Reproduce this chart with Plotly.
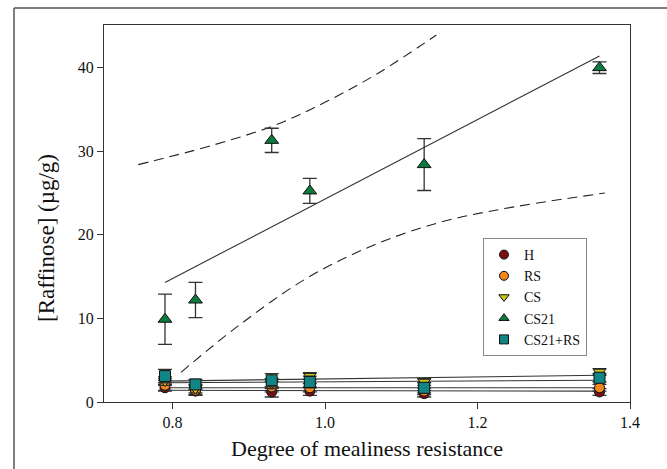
import plotly.graph_objects as go

# ---- data ----
x_vals = [0.79, 0.83, 0.93, 0.98, 1.13, 1.36]

h_y = [1.7, 1.3, 1.2, 1.3, 1.0, 1.2]
h_err = [0.4, 0.4, 0.6, 0.5, 0.4, 0.4]
rs_y = [2.0, 1.4, 1.8, 1.7, 1.3, 1.7]
rs_err = [0.6, 0.6, 0.6, 0.5, 0.4, 0.4]
cs_y = [2.5, 1.6, 2.2, 3.1, 2.4, 3.6]
cs_err = [0.5, 0.5, 0.6, 0.4, 0.4, 0.4]
cs21_y = [9.9, 12.2, 31.3, 25.25, 28.4, 40.0]
cs21_err = [3.0, 2.1, 1.45, 1.5, 3.1, 0.7]
cs21rs_y = [3.1, 2.1, 2.6, 2.4, 1.7, 2.9]
cs21rs_err = [0.8, 0.6, 0.8, 0.7, 0.6, 0.5]

# regression lines (endpoints)
fit_x = [0.79, 1.36]
fit_cs21 = [14.3, 41.4]
fit_cs = [2.5, 3.2]
fit_cs21rs = [2.3, 2.6]
fit_rs = [1.7, 1.7]
fit_h = [1.4, 1.3]

# confidence band curves
upper_x = [0.755, 0.79, 0.848, 0.934, 1.003, 1.069, 1.146]
upper_y = [28.4, 29.2, 30.6, 33.1, 36.0, 39.3, 43.9]
lower_x = [0.811, 0.886, 0.974, 1.062, 1.151, 1.239, 1.367]
lower_y = [3.55, 9.1, 14.7, 18.7, 21.5, 23.2, 25.0]

series_names = ["H", "RS", "CS", "CS21", "CS21+RS"]
series_y = [h_y, rs_y, cs_y, cs21_y, cs21rs_y]
series_err = [h_err, rs_err, cs_err, cs21_err, cs21rs_err]
colors = ["#7a0f12", "#f0861e", "#c9c31c", "#0b7a3c", "#118585"]
symbols = ["circle", "circle", "triangle-down", "triangle-up", "square"]
sizes = [10, 10, 11, 12, 11]

FONT = "Liberation Serif, Times New Roman, serif"
fig = go.Figure()

# dashed bands
for bx, by in [(upper_x, upper_y), (lower_x, lower_y)]:
    fig.add_trace(go.Scatter(x=bx, y=by, mode="lines", line_shape="spline",
                             line=dict(color="#222", width=1.1, dash="10px,6px"),
                             showlegend=False, hoverinfo="skip"))

# fit lines
for fy in [fit_h, fit_rs, fit_cs, fit_cs21rs, fit_cs21]:
    fig.add_trace(go.Scatter(x=fit_x, y=fy, mode="lines",
                             line=dict(color="#333", width=1.1),
                             showlegend=False, hoverinfo="skip"))

# data series
for name, ys, es, c, s, sz in zip(series_names, series_y, series_err, colors, symbols, sizes):
    fig.add_trace(go.Scatter(
        x=x_vals, y=ys, mode="markers", name=name, showlegend=False,
        marker=dict(color=c, symbol=s, size=sz, line=dict(color="#111", width=1)),
        error_y=dict(type="data", array=es, visible=True, color="#333", thickness=1.3, width=7),
    ))

# legend entries (smaller markers, as in reference legend)
for name, c, s in zip(series_names, colors, symbols):
    fig.add_trace(go.Scatter(
        x=[None], y=[None], mode="markers", name=name,
        marker=dict(color=c, symbol=s, size=9, line=dict(color="#111", width=1)),
    ))

# outer frame (decoration)
l, r, t, b = 104, 37, 25, 67
pw, ph = 667 - l - r, 469 - t - b
def px(xp): return (xp - l) / pw
def py(yp): return (469 - b - yp) / ph
fig.add_shape(type="line", xref="paper", yref="paper", x0=px(14), x1=px(14), y0=py(470), y1=py(8),
              line=dict(color="#555", width=1.5))
fig.add_shape(type="line", xref="paper", yref="paper", x0=px(14), x1=px(668), y0=py(8), y1=py(8),
              line=dict(color="#555", width=1.5))

# y-axis title as annotation (positioned like the reference)
fig.add_annotation(xref="paper", yref="paper", x=px(46), y=py(238), xanchor="center", yanchor="middle",
                   text="[Raffinose] (µg/g)", textangle=-90, showarrow=False,
                   font=dict(family=FONT, size=23, color="#111"))

tickfont = dict(family=FONT, size=16, color="#111")
fig.update_layout(
    width=667, height=469,
    margin=dict(l=l, r=r, t=t, b=b),
    paper_bgcolor="white", plot_bgcolor="white",
    font=dict(family=FONT, color="#111", size=16),
    showlegend=True,
    legend=dict(x=px(483), y=py(297), xanchor="left", yanchor="middle",
                bordercolor="#888", borderwidth=1, bgcolor="white",
                font=dict(family=FONT, size=14, color="#111"), tracegroupgap=0, itemwidth=30,
                itemsizing="trace"),
    xaxis=dict(range=[0.71, 1.4], tickvals=[0.8, 1.0, 1.2, 1.4], ticktext=["0.8", "1.0", "1.2", "1.4"],
               showgrid=False, zeroline=False, showline=True, mirror=True, linecolor="#333", linewidth=1.3,
               ticks="outside", ticklen=6, tickcolor="#333", tickfont=tickfont,
               title=dict(text="Degree of mealiness resistance", font=dict(family=FONT, size=22), standoff=10)),
    yaxis=dict(range=[0, 45.1], tickvals=[0, 10, 20, 30, 40],
               showgrid=False, zeroline=False, showline=True, mirror=True, linecolor="#333", linewidth=1.3,
               ticks="outside", ticklen=6, tickcolor="#333", tickfont=tickfont),
)

fig.write_html("out.html")
